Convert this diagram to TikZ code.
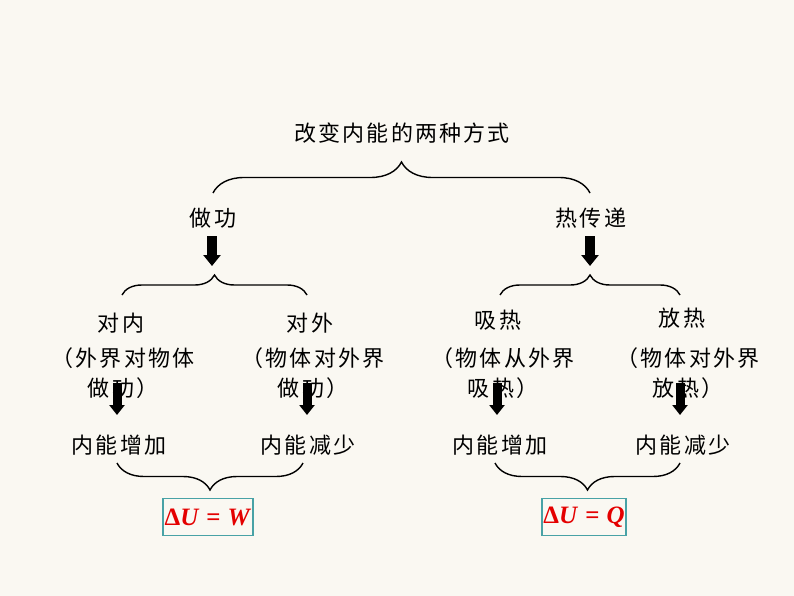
\documentclass[tikz,border=0pt]{standalone}
\usepackage{fontspec}
\newfontfamily\cjk[LetterSpace=10]{Noto Sans CJK SC}
\newfontfamily\formfont{Liberation Serif}
\usetikzlibrary{arrows.meta,decorations.pathreplacing,positioning}
\definecolor{paper}{RGB}{250, 248, 242}
\definecolor{boxline}{RGB}{72, 162, 166}
\definecolor{formred}{RGB}{228, 0, 0}
\newcommand{\lawtext}[1]{\formfont\bfseries Δ\textit{U}\hspace{7pt}=\hspace{7pt}\textit{#1}}

\begin{document}
\begin{tikzpicture}[x=1pt, y=-1pt,
    word/.style={inner sep=0pt, font=\cjk\fontsize{22}{30}\selectfont, align=center},
    bracebar/.style={decorate, decoration={brace, amplitude=#1}, line width=1.4pt},
    bigarrow/.style={line width=10pt, -{Triangle[width=17pt,length=11pt]}},
    smallarrow/.style={line width=9pt, -{Triangle[width=15pt,length=10pt]}},
    formbox/.style={draw=boxline, line width=1.3pt, fill=paper, minimum height=37pt,
        inner sep=0pt, text=formred, font=\fontsize{25}{28}\selectfont}]
    \useasboundingbox (0,0) rectangle (794,596);
    \fill[paper] (0,0) rectangle (794,596);

    % Top level
    \node[word] (ways) at (402,133) {改变内能的两种方式};
    \draw[bracebar=31] (213,193) -- (590,193);

    \node[word] (work) at (213,218) {做功};
    \node[word] (heat) at (591,218) {热传递};
    \coordinate (worktip) at (212,266);
    \coordinate (heattip) at (590,266);
    \draw[bigarrow] (212,236) -- (worktip);
    \draw[bigarrow] (590,236) -- (heattip);

    \draw[bracebar=20] (122,295) -- (307,295);
    \draw[bracebar=20] (500,295) -- (680,295);

    % Doing work
    \node[word] (inward) at (121,323) {对内};
    \node[word] (outward) at (310,323) {对外};
    \node[word] (inwardnote) at (123,373) {（外界对物体\\做功）};
    \node[word] (outwardnote) at (313,373) {（物体对外界\\做功）};
    \node[word] (workup) at (119,445) {内能增加};
    \node[word] (workdown) at (308,445) {内能减少};

    % Heat transfer
    \node[word] (absorb) at (498,320) {吸热};
    \node[word] (release) at (682,318) {放热};
    \node[word] (absorbnote) at (503,373) {（物体从外界\\吸热）};
    \node[word] (releasenote) at (688,373) {（物体对外界\\放热）};
    \node[word] (heatup) at (500,445) {内能增加};
    \node[word] (heatdown) at (683,445) {内能减少};

    % Arrows over the notes
    \draw[smallarrow] (117,383) -- (117,415);
    \draw[smallarrow] (307,383) -- (307,415);
    \draw[smallarrow] (497,383) -- (497,415);
    \draw[smallarrow] (680,383) -- (680,415);

    % Bottom braces and results
    \draw[bracebar=27] (303,463) -- (117,463);
    \draw[bracebar=27] (680,463) -- (495,463);
    \node[formbox, minimum width=90pt] (workform) at (208,517) {\lawtext{W}};
    \node[formbox, minimum width=84pt] (heatform) at (584,517) {\lawtext{Q}};
\end{tikzpicture}
\end{document}
